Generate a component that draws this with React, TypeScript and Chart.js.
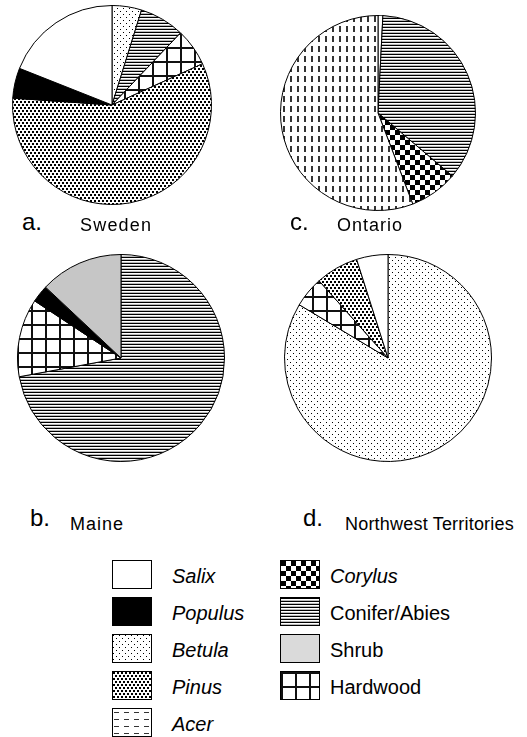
import React, { useEffect, useRef } from 'react';
import { Chart, registerables } from 'chart.js';
Chart.register(...registerables);

// ---- data (clockwise from 12 o'clock) ----
const swedenCategories = ['Betula', 'Conifer/Abies', 'Hardwood', 'Pinus', 'Populus', 'Salix'];
const swedenValues = [4.8, 7.3, 6.1, 57.9, 4.9, 19.0];

const ontarioCategories = ['Salix', 'Conifer/Abies', 'Corylus', 'Acer'];
const ontarioValues = [0.8, 35.4, 8.0, 55.8];

const maineCategories = ['Conifer/Abies', 'Hardwood', 'Populus', 'Shrub'];
const maineValues = [72.1, 12.2, 2.7, 13.0];

const nwtCategories = ['Betula', 'Hardwood', 'Pinus', 'Salix'];
const nwtValues = [83.6, 4.8, 6.7, 4.9];

const legendLeft = ['Salix', 'Populus', 'Betula', 'Pinus', 'Acer'];
const legendRight = ['Corylus', 'Conifer/Abies', 'Shrub', 'Hardwood'];
const italicNames = ['Salix', 'Populus', 'Betula', 'Pinus', 'Acer', 'Corylus'];

const FONT = '"Liberation Sans", Arial, sans-serif';

function makeTile(kind: string, legend = false): HTMLCanvasElement {
  const c = document.createElement('canvas');
  const g = c.getContext('2d')!;
  const set = (w: number, h: number, bg = '#ffffff') => {
    c.width = w; c.height = h;
    g.fillStyle = bg; g.fillRect(0, 0, w, h);
    g.fillStyle = '#000000';
  };
  switch (kind) {
    case 'Populus': set(4, 4, '#000000'); break;
    case 'Betula': set(6, 6); g.fillRect(0, 0, 1, 1); g.fillRect(3, 3, 1, 1); break;
    case 'Pinus':
      set(8, 6);
      g.fillRect(0, 0, 2, 2); g.fillRect(4, 0, 2, 2); g.fillRect(2, 3, 2, 2); g.fillRect(6, 3, 2, 2);
      break;
    case 'Acer':
      if (legend) { set(10, 7); g.fillStyle = '#333'; g.fillRect(1, 3, 5, 1); }
      else { set(7, 10); g.fillStyle = '#333'; g.fillRect(3, 1, 2, 6); }
      break;
    case 'Corylus': set(10, 10); g.fillRect(0, 0, 5, 5); g.fillRect(5, 5, 5, 5); break;
    case 'Conifer/Abies': set(1, 3); g.fillRect(0, 0, 1, 1); g.fillStyle = '#bbb'; g.fillRect(0, 2, 1, 1); break;
    case 'Shrub': set(2, 2, legend ? '#dadada' : '#c6c6c6'); break;
    case 'Hardwood': set(14, 14); g.fillStyle = '#111'; g.fillRect(0, 0, 14, 2); g.fillRect(0, 0, 2, 14); break;
    default: set(2, 2); break;
  }
  return c;
}

function Pie(props: { cats: string[]; vals: number[]; cx: number; cy: number; r: number }) {
  const ref = useRef<HTMLCanvasElement>(null);
  const S = 2 * props.r + 2;
  useEffect(() => {
    const cv = ref.current!;
    const ctx = cv.getContext('2d')!;
    const bg = props.cats.map((k) => ctx.createPattern(makeTile(k), 'repeat'));
    const chart = new Chart(cv, {
      type: 'pie',
      data: {
        labels: props.cats,
        datasets: [{ data: props.vals, backgroundColor: bg as any, borderColor: '#000', borderWidth: 1, hoverOffset: 0 }],
      },
      options: {
        responsive: false,
        animation: false,
        events: [],
        layout: { padding: 0 },
        plugins: { legend: { display: false }, tooltip: { enabled: false } },
      },
    });
    return () => chart.destroy();
  }, []);
  return (
    <canvas ref={ref} width={S} height={S}
      style={{ position: 'absolute', left: props.cx - S / 2, top: props.cy - S / 2, width: S, height: S }} />
  );
}

function Swatch(props: { kind: string; x: number; y: number }) {
  const url = makeTile(props.kind, true).toDataURL();
  return (
    <div style={{
      position: 'absolute', left: props.x, top: props.y, width: 38, height: 27,
      border: '1px solid #000', backgroundImage: `url(${url})`, backgroundRepeat: 'repeat',
    }} />
  );
}

function Text(props: { x: number; y: number; size: number; text: string; italic?: boolean; ls?: number }) {
  return (
    <div style={{
      position: 'absolute', left: props.x, top: props.y, fontFamily: FONT, fontSize: props.size,
      lineHeight: 1, whiteSpace: 'nowrap', fontStyle: props.italic ? 'italic' : 'normal',
      letterSpacing: props.ls ?? 0, color: '#000',
    }}>{props.text}</div>
  );
}

export default function App() {
  useEffect(() => { document.body.style.margin = '0'; }, []);
  const rowY = [560, 597, 634, 671, 708];
  return (
    <div style={{ position: 'absolute', left: 0, top: 0, width: 527, height: 737, background: '#fff', overflow: 'hidden' }}>
      <Pie cats={swedenCategories} vals={swedenValues} cx={112} cy={105} r={99} />
      <Pie cats={ontarioCategories} vals={ontarioValues} cx={378} cy={113} r={97} />
      <Pie cats={maineCategories} vals={maineValues} cx={121} cy={358} r={103} />
      <Pie cats={nwtCategories} vals={nwtValues} cx={388} cy={358} r={103} />

      <Text x={22} y={210} size={24} text="a." />
      <Text x={80} y={216} size={18} text="Sweden" ls={1.2} />
      <Text x={290} y={210} size={24} text="c." />
      <Text x={337} y={216} size={18} text="Ontario" ls={1} />
      <Text x={30} y={506} size={24} text="b." />
      <Text x={70} y={515} size={18} text="Maine" ls={1} />
      <Text x={303} y={506} size={24} text="d." />
      <Text x={345} y={515} size={18} text="Northwest Territories" ls={0.2} />

      {legendLeft.map((k, i) => (
        <React.Fragment key={k}>
          <Swatch kind={k} x={112} y={rowY[i]} />
          <Text x={172} y={rowY[i] + 6} size={20} text={k} italic={italicNames.includes(k)} />
        </React.Fragment>
      ))}
      {legendRight.map((k, i) => (
        <React.Fragment key={k}>
          <Swatch kind={k} x={280} y={rowY[i]} />
          <Text x={330} y={rowY[i] + 6} size={20} text={k} italic={italicNames.includes(k)} />
        </React.Fragment>
      ))}
    </div>
  );
}
